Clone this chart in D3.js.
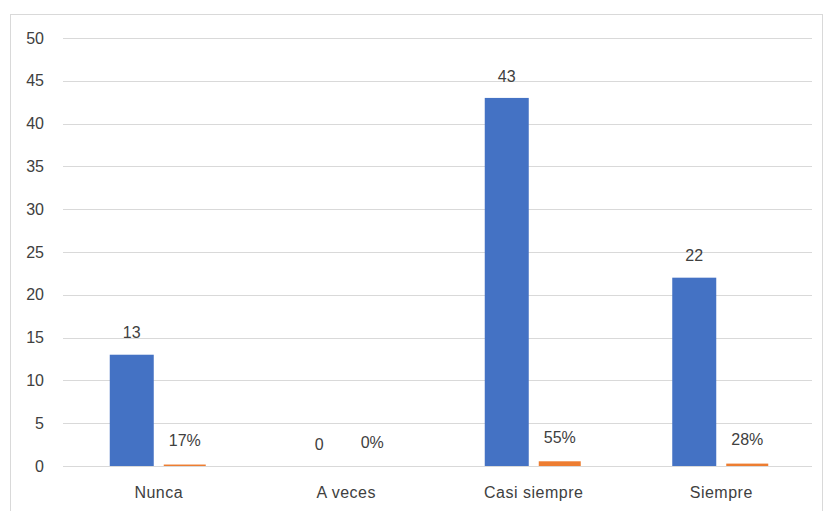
<!DOCTYPE html>
<html><head><meta charset="utf-8">
<script src="https://cdn.jsdelivr.net/npm/d3@7"></script>
<style>body{margin:0;background:#fff}svg{display:block}text{font-family:"Liberation Sans",Arial,sans-serif;fill:#404040}</style>
</head><body>
<svg id="c" width="827" height="511"></svg>
<script>
const categories = ["Nunca", "A veces", "Casi siempre", "Siempre"];
const counts = [13, 0, 43, 22];
const percents = [0.17, 0, 0.55, 0.28];
const percentLabels = ["17%", "0%", "55%", "28%"];
const yTicks = [0, 5, 10, 15, 20, 25, 30, 35, 40, 45, 50];

const svg = d3.select("#c");
svg.append("rect").attr("x", 10.5).attr("y", 14.5).attr("width", 812).attr("height", 520)
  .attr("fill", "#fff").attr("stroke", "#d9d9d9");

const m = {left: 65, right: 815, top: 38, bottom: 466};
const x = d3.scaleBand().domain(categories).range([m.left, m.right]);
const y = d3.scaleLinear().domain([0, 50]).range([m.bottom, m.top]);

svg.append("g").selectAll("line").data(yTicks).join("line")
  .attr("x1", 63).attr("x2", 812)
  .attr("y1", d => Math.round(y(d)) + 0.5).attr("y2", d => Math.round(y(d)) + 0.5)
  .attr("stroke", "#d9d9d9").attr("stroke-width", 1);

svg.append("g").selectAll("text").data(yTicks).join("text")
  .attr("x", 44).attr("y", d => y(d)).attr("dy", "0.35em")
  .attr("text-anchor", "end").attr("font-size", 16).text(d => d);

const bw = 44, gap = 10;
const g = svg.append("g");
categories.forEach((c, i) => {
  const cx = x(c) + x.bandwidth() / 2;
  const bx = cx - gap / 2 - bw;
  const ox = cx + gap / 2;
  g.append("rect").attr("x", bx).attr("width", bw)
    .attr("y", y(counts[i])).attr("height", y(0) - y(counts[i])).attr("fill", "#4472c4");
  g.append("rect").attr("x", ox).attr("width", bw - 2)
    .attr("y", y(percents[i])).attr("height", y(0) - y(percents[i])).attr("fill", "#ed7d31");
  g.append("text").attr("x", bx + bw / 2).attr("y", y(counts[i]) - 22).attr("dy", "0.35em")
    .attr("text-anchor", "middle").attr("font-size", 16).text(counts[i]);
  g.append("text").attr("x", ox + (bw - 2) / 2).attr("y", y(percents[i]) - 24).attr("dy", "0.35em")
    .attr("text-anchor", "middle").attr("font-size", 16).text(percentLabels[i]);
  g.append("text").attr("x", cx).attr("y", 492).attr("dy", "0.35em")
    .attr("text-anchor", "middle").attr("font-size", 16).attr("letter-spacing", 0.5).text(c);
});
</script>
</body></html>
